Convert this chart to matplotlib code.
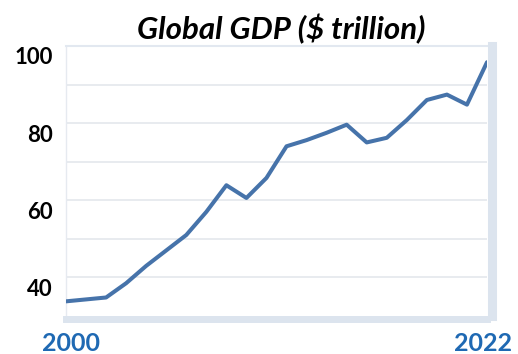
import matplotlib
matplotlib.use("Agg")
import matplotlib.pyplot as plt
import matplotlib.transforms as mtransforms
import numpy as np

# global GDP, $ trillion, one point per year
gdp = [33.8, 34.3, 34.8, 38.5, 43.0, 47.0, 51.0, 57.0, 63.9, 60.6, 65.8,
       74.0, 75.6, 77.5, 79.6, 75.0, 76.2, 80.8, 86.0, 87.4, 84.8, 95.8]
x_labels = ["2000", "2022"]
y_ticks = [40, 60, 80, 100]
y_grid = [40, 50, 60, 70, 80, 90]
title = "Global GDP ($ trillion)"

plt.rcParams['font.family'] = ['Lato', 'DejaVu Sans']

W, H = 518, 354
fig = plt.figure(figsize=(W / 100, H / 100), dpi=100)
left, right, top, bottom = 66, 487, 46, 316
ax = fig.add_axes([left / W, (H - bottom) / H, (right - left) / W, (bottom - top) / H])

x = np.arange(len(gdp))
ax.plot(x, gdp, color='#4673aa', lw=2.9, solid_joinstyle='round', solid_capstyle='round', zorder=3)

ax.set_xlim(0, len(gdp) - 1)
ax.set_ylim(30, 100)

for g in y_grid:
    ax.axhline(g, color='#e6e9ee', lw=1.3, zorder=1)

band = '#dce4ee'
ax.spines['right'].set_color(band)
ax.spines['right'].set_linewidth(6.5)
ax.spines['right'].set_position(('outward', 3.3))
ax.spines['bottom'].set_color(band)
ax.spines['bottom'].set_linewidth(5)
ax.spines['bottom'].set_position(('outward', 2.5))
ax.spines['top'].set_color('#e2e8f0')
ax.spines['top'].set_linewidth(1.5)
ax.spines['left'].set_color('#e6eaf0')
ax.spines['left'].set_linewidth(1.0)

ax.set_yticks(y_ticks)
ax.set_xticks([0, len(gdp) - 1])
ax.tick_params(axis='y', length=0, pad=9.5, labelsize=16, labelcolor='black')
ax.tick_params(axis='x', length=0, pad=9, labelsize=18, labelcolor='#1f69b3')
ax.set_yticklabels([str(v) for v in y_ticks])
ax.set_xticklabels(x_labels)
for lab in ax.get_xticklabels() + ax.get_yticklabels():
    lab.set_fontweight('bold')

# the original has its labels nudged a little off the grid
def nudge(lab, dx, dy):
    lab.set_transform(lab.get_transform() +
                      mtransforms.ScaledTranslation(dx / 100, dy / 100, fig.dpi_scale_trans))

for lab in ax.get_yticklabels():
    nudge(lab, 0, -10)
xl = ax.get_xticklabels()
nudge(xl[0], 5, 0)
nudge(xl[1], -4, 0)

ax.set_title(title, fontsize=22.5, fontweight='bold', fontstyle='italic', pad=5, x=0.512)

fig.savefig("out.png", dpi=100)
